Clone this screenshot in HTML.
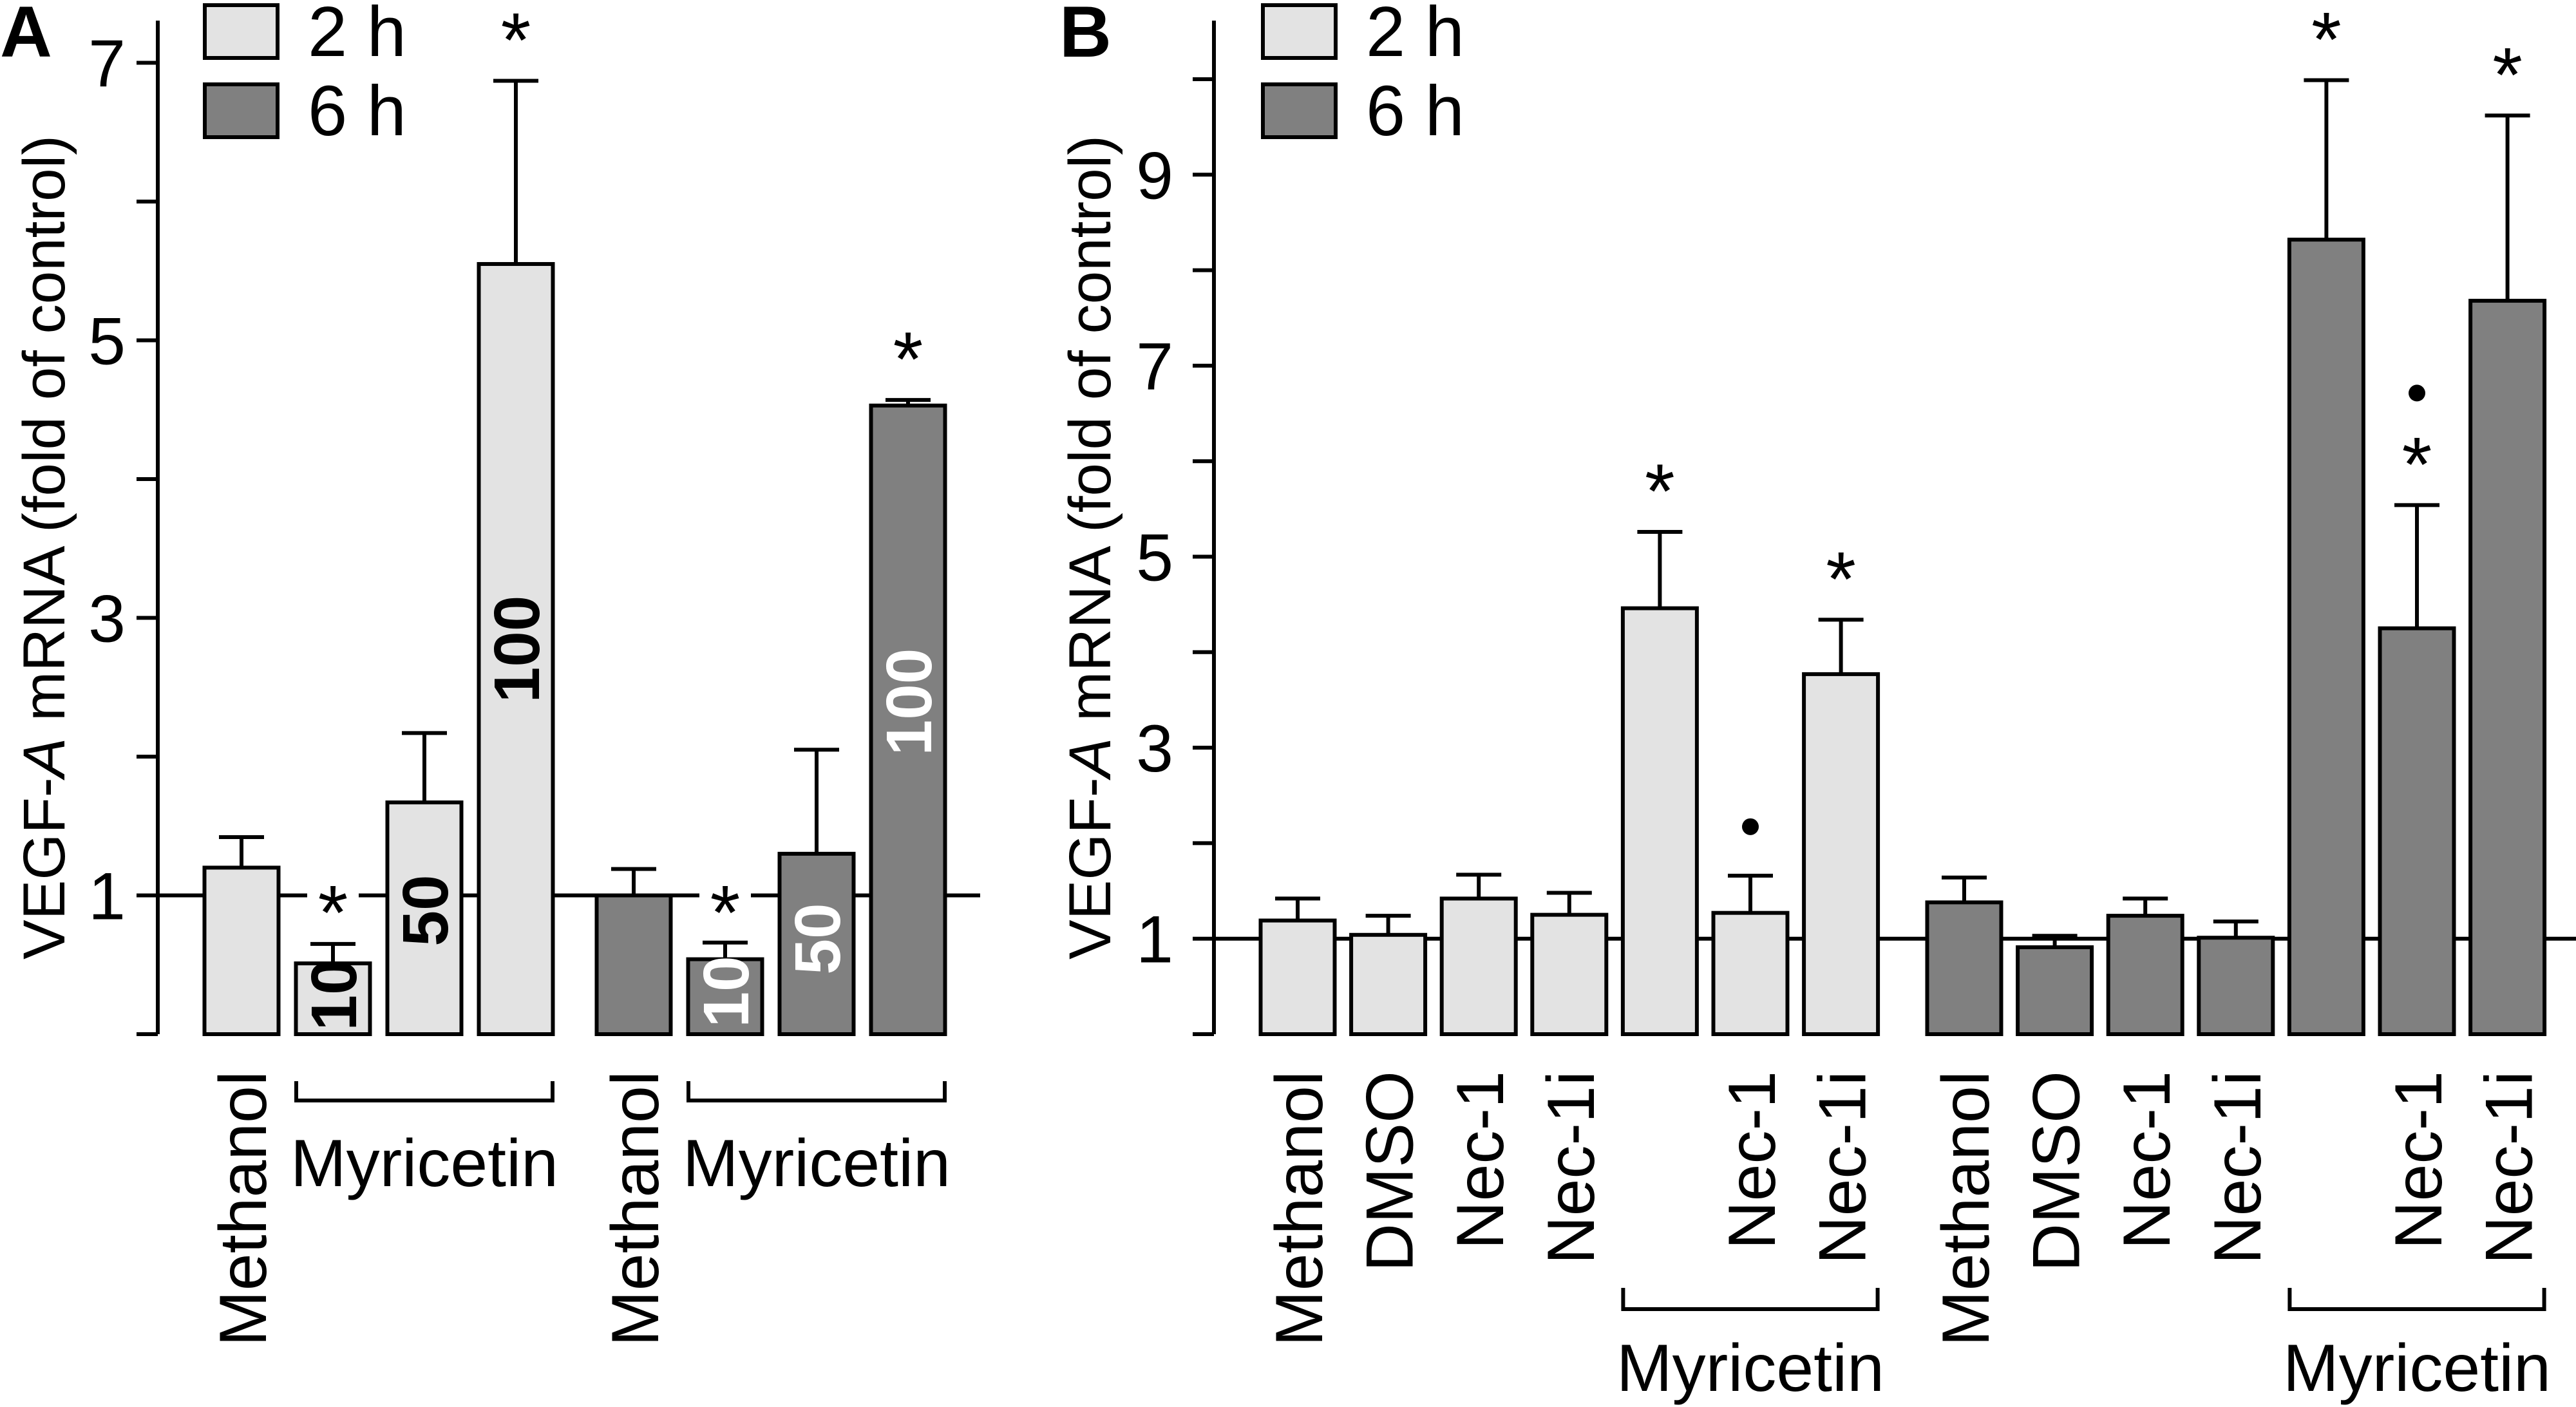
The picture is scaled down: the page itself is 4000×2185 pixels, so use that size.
<!DOCTYPE html>
<html><head><meta charset="utf-8"><style>
html,body{margin:0;padding:0;background:#fff}
svg{display:block}
text{font-family:"Liberation Sans",sans-serif}
</style></head><body>
<svg id="chart" xmlns="http://www.w3.org/2000/svg" width="4000" height="2185" viewBox="0 0 4000 2185">
<text x="0" y="88" font-size="112" font-weight="bold">A</text>
<text x="1645" y="88" font-size="112" font-weight="bold">B</text>
<g id="A"></g>
<g id="B"></g>
</svg>
<script>
// Panel A data
const aCategories = ["Methanol","10","50","100","Methanol","10","50","100"];
const aGroup = ["2h","2h","2h","2h","6h","6h","6h","6h"];
const aValues = [1.2, 0.51, 1.67, 5.55, 1.0, 0.54, 1.30, 4.53];
const aErrors = [1.42, 0.65, 2.17, 6.87, 1.19, 0.66, 2.05, 4.57];
const aStars = [false, true, false, true, false, true, false, true];
const aTicks = [1, 3, 5, 7];
const aMinor = [2, 4, 6];
// Panel B data
const bCategories = ["Methanol","DMSO","Nec-1","Nec-1i","Myricetin","Nec-1","Nec-1i","Methanol","DMSO","Nec-1","Nec-1i","Myricetin","Nec-1","Nec-1i"];
const bGroup = ["2h","2h","2h","2h","2h","2h","2h","6h","6h","6h","6h","6h","6h","6h"];
const bValues = [1.19, 1.04, 1.42, 1.25, 4.46, 1.27, 3.77, 1.38, 0.91, 1.24, 1.01, 8.32, 4.25, 7.68];
const bErrors = [1.42, 1.24, 1.67, 1.48, 5.26, 1.66, 4.34, 1.64, 1.03, 1.42, 1.18, 9.99, 5.54, 9.62];
const bStars = [false,false,false,false,true,false,true,false,false,false,false,true,true,true];
const bDots = [false,false,false,false,false,true,false,false,false,false,false,false,true,false];
const bTicks = [1, 3, 5, 7, 9];
const bMinor = [2, 4, 6, 8, 10];

const NS = "http://www.w3.org/2000/svg";
const FILL = {"2h":"#e3e3e3","6h":"#808080"};
function mk(parent, tag, attrs, txt){
  const e = document.createElementNS(NS, tag);
  for (const k in attrs) e.setAttribute(k, attrs[k]);
  if (txt !== undefined) e.textContent = txt;
  parent.appendChild(e);
  return e;
}
function panel(cfg){
  const g = document.getElementById(cfg.id);
  const y = v => cfg.y0 - v * cfg.unit;
  const xc = i => i < cfg.n1 ? cfg.s1 + i * cfg.pitch : cfg.s2 + (i - cfg.n1) * cfg.pitch;
  const W = 115;
  let e = mk(g, "line", {x1:cfg.ax, y1:32, x2:cfg.ax, y2:cfg.y0, stroke:"#000","stroke-width":6});
  
  
  cfg.ticks.concat(cfg.minor).concat([0]).forEach(t => {
    const tk = mk(g, "line", {x1:cfg.ax-33, y1:y(t), x2:cfg.ax, y2:y(t), stroke:"#000","stroke-width":6});
    
    
  });
  cfg.ticks.forEach(t => {
    const tl = mk(g, "text", {x:cfg.lx, y:y(t)+37, "font-size":104, "text-anchor":"end"}, String(t));
    
    
  });
  const tt = mk(g, "text", {transform:`translate(${cfg.tx},1490) rotate(-90)`, "font-size":92, textLength:1280, lengthAdjust:"spacingAndGlyphs"});
  
  
  tt.innerHTML = 'VEGF-<tspan font-style="italic">A</tspan> mRNA (fold of control)';
  const rl = mk(g, "line", {x1:cfg.ax, y1:y(1), x2:cfg.refEnd, y2:y(1), stroke:"#000","stroke-width":6});
  
  
  cfg.values.forEach((v, i) => {
    const c = xc(i);
    const el = mk(g, "line", {x1:c, y1:y(v), x2:c, y2:y(cfg.errors[i]), stroke:"#000","stroke-width":6});
    
    
    const cap = mk(g, "line", {x1:c-35, y1:y(cfg.errors[i]), x2:c+35, y2:y(cfg.errors[i]), stroke:"#000","stroke-width":6});
    
    
    const b = mk(g, "rect", {x:c-W/2, y:y(v), width:W, height:cfg.y0-y(v), fill:FILL[cfg.group[i]], stroke:"#000","stroke-width":6});
    
    
    if (cfg.stars[i]) {
      let sy;
      if (cfg.starAtRef && cfg.starAtRef[i]) {
        sy = y(1);
        const wr = mk(g, "rect", {x:c-40, y:sy-10, width:80, height:20, fill:"#fff"});
        
        
      } else {
        sy = y(cfg.errors[i]) - cfg.starOff;
      }
      const st = mk(g, "text", {x:c, y:sy+68, "font-size":120, "text-anchor":"middle"}, "*");
      
      
      if (cfg.dots && cfg.dots[i]) {
        const d = mk(g, "circle", {cx:c, cy:sy-84, r:13, fill:"#000"});
        
        
      }
    } else if (cfg.dots && cfg.dots[i]) {
      const d = mk(g, "circle", {cx:c, cy:y(cfg.errors[i])-76, r:13, fill:"#000"});
      
      
    }
  });
  [["2h","2 h",5],["6h","6 h",128]].forEach(L => {
    const r = mk(g, "rect", {x:cfg.legX, y:L[2]+3, width:113, height:82, fill:FILL[L[0]], stroke:"#000","stroke-width":6});
    
    
    const t = mk(g, "text", {x:cfg.legX+160, y:L[2]+82, "font-size":110}, L[1]);
    
    
  });
  return {y, xc};
}

const A = panel({id:"A", y0:1606, unit:215.5, ax:245, lx:195, tx:100, refEnd:1522,
  n1:4, s1:375, s2:984, pitch:142, values:aValues, errors:aErrors, group:aGroup, cats:aCategories,
  stars:aStars, starAtRef:[false,true,false,false,false,true,false,false], starOff:90,
  ticks:aTicks, minor:aMinor, legX:318});
const B = panel({id:"B", y0:1606, unit:148.3, ax:1885, lx:1822, tx:1724, refEnd:4000,
  n1:7, s1:2015, s2:3050, pitch:140.6, values:bValues, errors:bErrors, group:bGroup, cats:bCategories,
  stars:bStars, dots:bDots, starOff:90, ticks:bTicks, minor:bMinor, legX:1961});

const gA = document.getElementById("A");
const aInCenters = [null, 1545, 1414, 1008, null, 1540, 1458, 1090];
aCategories.forEach((c, i) => {
  const x = A.xc(i);
  if (c === "Methanol") {
    const t = mk(gA, "text", {transform:`translate(${x+38},1663) rotate(-90)`, "font-size":104, "text-anchor":"end"}, c);
    
    
  } else {
    const t = mk(gA, "text", {transform:`translate(${x+36},${aInCenters[i]}) rotate(-90)`, "font-size":100, "font-weight":"bold", "text-anchor":"middle", style: "fill:" + (aGroup[i]==="6h" ? "#fff" : "#000")}, c);
    
    
  }
});
function bracket(g, x1, x2, yl, ytop, ty){
  const p = mk(g, "path", {d:`M${x1},${ytop} V${yl} H${x2} V${ytop}`, fill:"none", stroke:"#000", "stroke-width":6});
  
  
  const t = mk(g, "text", {x:(x1+x2)/2, y:ty, "font-size":104, "text-anchor":"middle"}, "Myricetin");
  
  
}
bracket(gA, A.xc(1)-57, A.xc(3)+57, 1709, 1679, 1842);
bracket(gA, A.xc(5)-57, A.xc(7)+57, 1709, 1679, 1842);

const gB = document.getElementById("B");
bCategories.forEach((c, i) => {
  if (c === "Myricetin") return;
  const x = B.xc(i);
  const t = mk(gB, "text", {transform:`translate(${x+38},1663) rotate(-90)`, "font-size":104, "text-anchor":"end"}, c);
  
  
});
bracket(gB, B.xc(4)-57, B.xc(6)+57, 2033, 2000, 2160);
bracket(gB, B.xc(11)-57, B.xc(13)+57, 2033, 2000, 2160);
</script>
</body></html>
